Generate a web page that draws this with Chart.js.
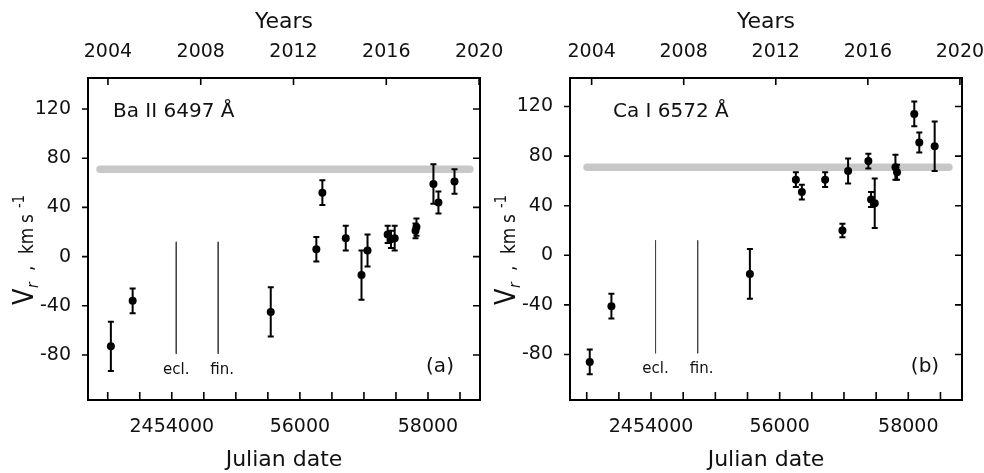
<!DOCTYPE html>
<html>
<head>
<meta charset="utf-8">
<script src="https://cdn.jsdelivr.net/npm/chart.js@4.4.1/dist/chart.umd.min.js"></script>
<style>
  html, body { margin: 0; padding: 0; background: #fff; }
  #wrap { position: relative; width: 984px; height: 473px; overflow: hidden; }
  canvas { position: absolute; top: 0; }
  #panelA { left: 0; }
  #panelB { left: 490px; }
</style>
</head>
<body>
<div id="wrap">
  <canvas id="panelA" width="520" height="473"></canvas>
  <canvas id="panelB" width="494" height="473"></canvas>
</div>
<script>
// Radial velocities measured from the Ba II 6497 A line
const baJD  = [2453049, 2453389, 2455545, 2456257, 2456351, 2456716, 2456962, 2457056,
               2457370, 2457422, 2457480, 2457805, 2457820, 2458085, 2458163, 2458414];
const baVr  = [-73, -36, -45, 6, 52, 15, -15, 5, 18, 14, 15, 21, 24, 59, 44, 61];
const baErr = [20, 10, 20, 10, 10, 10, 20, 13, 7, 7, 10, 6, 7, 16, 9, 10];

// Radial velocities measured from the Ca I 6572 A line
const caJD  = [2453047, 2453384, 2455537, 2456252, 2456345, 2456707, 2456976, 2457064,
               2457379, 2457421, 2457478, 2457800, 2457825, 2458093, 2458171, 2458410];
const caVr  = [-86, -41, -15, 61, 51, 61, 20, 68, 76, 45, 42, 71, 67, 114, 91, 88];
const caErr = [10, 10, 20, 6, 6, 6, 5.5, 10, 6, 6, 20, 10, 6, 10, 8, 20];

// Systemic velocity band and the span of JD it covers in each panel
const systemicVr = 71;
const baBandJD = [2452880, 2458655];
const caBandJD = [2453005, 2458632];

// Eclipse and its end, marked as vertical lines
const eventJD = [2454070, 2454725];
const eventNames = ['ecl.', 'fin.'];
const eventVr = [12, -79];

// Axis ticks
const jdTicks = [2453000, 2453500, 2454000, 2454500, 2455000, 2455500,
                 2456000, 2456500, 2457000, 2457500, 2458000, 2458500];
const jdLabels = { 2454000: '2454000', 2456000: '56000', 2458000: '58000' };
const yearTicks = [2004, 2008, 2012, 2016, 2020];
const vrTicks = [-80, -40, 0, 40, 80, 120];

const FONT = 'DejaVu Sans';
const INK = '#111';

function panel(canvasId, cfg) {
  const marks = {
    id: 'marks',
    afterDatasetsDraw(chart) {
      const ctx = chart.ctx;
      const xs = chart.scales.x, ys = chart.scales.y, ts = chart.scales.x2;
      const a = chart.chartArea;
      ctx.save();
      ctx.strokeStyle = '#000';
      ctx.lineWidth = 2;
      // error bars with caps
      cfg.jd.forEach((jd, i) => {
        const px = xs.getPixelForValue(jd);
        const hi = ys.getPixelForValue(cfg.vr[i] + cfg.err[i]);
        const lo = ys.getPixelForValue(cfg.vr[i] - cfg.err[i]);
        ctx.beginPath();
        ctx.moveTo(px, hi); ctx.lineTo(px, lo);
        ctx.moveTo(px - 3, hi); ctx.lineTo(px + 3, hi);
        ctx.moveTo(px - 3, lo); ctx.lineTo(px + 3, lo);
        ctx.stroke();
      });
      // frame
      ctx.strokeRect(a.left, a.top, a.right - a.left, a.bottom - a.top);
      // tick marks
      ctx.lineWidth = 1.6;
      ctx.beginPath();
      jdTicks.forEach(v => {
        const px = xs.getPixelForValue(v);
        ctx.moveTo(px, a.bottom); ctx.lineTo(px, a.bottom - 8);
      });
      yearTicks.forEach(v => {
        const px = ts.getPixelForValue(v);
        ctx.moveTo(px, a.top); ctx.lineTo(px, a.top + 7);
      });
      vrTicks.forEach(v => {
        const py = ys.getPixelForValue(v);
        ctx.moveTo(a.left, py); ctx.lineTo(a.left - 6, py);
        ctx.moveTo(a.right, py); ctx.lineTo(a.right - 7, py);
      });
      ctx.stroke();

      ctx.fillStyle = INK;
      // line identification
      ctx.font = '20px "' + FONT + '"';
      ctx.textAlign = 'left';
      ctx.textBaseline = 'alphabetic';
      ctx.fillText(cfg.line, a.left + cfg.lineDx, a.top + 39);
      // panel tag
      ctx.textAlign = 'center';
      ctx.textBaseline = 'middle';
      ctx.fillText(cfg.tag, a.right - cfg.tagDx, a.bottom - 33);
      // event labels under the vertical lines
      ctx.font = '15px "' + FONT + '"';
      const labY = ys.getPixelForValue(eventVr[1]) + 16;
      eventJD.forEach((jd, i) => {
        ctx.fillText(eventNames[i], xs.getPixelForValue(jd) + (i ? 4 : 0), labY);
      });

      // y-axis title: V_r , km s^-1 (glyphs slightly widened across the baseline)
      ctx.translate(a.left - 55, a.bottom - 95);
      ctx.rotate(-Math.PI / 2);
      ctx.scale(1, 1.18);
      ctx.textAlign = 'left';
      ctx.textBaseline = 'alphabetic';
      const runs = [
        { t: 'V',  f: '24px',        x: 0,  y: 0 },
        { t: 'r',  f: 'italic 14px', x: 17, y: 4 },
        { t: ',',  f: '17px',        x: 34, y: 0 },
        { t: 'km', f: '17px',        x: 51, y: 0 },
        { t: 's',  f: '17px',        x: 82, y: 0 },
        { t: '-1', f: '13px',        x: 97, y: -8 }
      ];
      runs.forEach(r => {
        ctx.font = r.f + ' "' + FONT + '"';
        ctx.fillText(r.t, r.x, r.y);
      });
      ctx.restore();
    }
  };

  const pts = cfg.jd.map((x, i) => ({ x: x, y: cfg.vr[i] }));
  const vline = jd => [{ x: jd, y: eventVr[0] }, { x: jd, y: eventVr[1] }];
  // keep the plot box fixed: no extra room for overhanging end labels
  const noOverhang = s => { s.paddingLeft = 0; s.paddingRight = 0; s.paddingTop = 0; s.paddingBottom = 0; };

  return new Chart(document.getElementById(canvasId), {
    type: 'scatter',
    data: {
      datasets: [
        { data: pts, pointRadius: 4, pointHoverRadius: 4, backgroundColor: '#000',
          borderWidth: 0, showLine: false },
        { data: vline(eventJD[0]), showLine: true, borderColor: '#444', borderWidth: 1,
          pointRadius: 0 },
        { data: vline(eventJD[1]), showLine: true, borderColor: '#444', borderWidth: 1,
          pointRadius: 0 },
        { data: [{ x: cfg.band[0], y: systemicVr }, { x: cfg.band[1], y: systemicVr }],
          showLine: true, borderColor: '#c8c8c8', borderWidth: 7.5,
          borderCapStyle: 'round', pointRadius: 0 }
      ]
    },
    options: {
      responsive: false,
      animation: false,
      devicePixelRatio: 1,
      layout: { padding: { left: 0, right: cfg.padRight, top: 0, bottom: 0 } },
      plugins: { legend: { display: false }, tooltip: { enabled: false } },
      scales: {
        x: {
          type: 'linear', position: 'bottom', min: cfg.jdRange[0], max: cfg.jdRange[1],
          afterBuildTicks: s => { s.ticks = jdTicks.map(v => ({ value: v })); },
          afterFit: s => { s.height = 73; noOverhang(s); },
          grid: { display: false }, border: { display: false },
          ticks: { autoSkip: false, maxRotation: 0, minRotation: 0, padding: 7.6,
                   color: INK, font: { family: FONT, size: 19 },
                   callback: v => jdLabels[v] || '' },
          title: { display: true, text: 'Julian date', color: INK,
                   font: { family: FONT, size: 22 }, padding: { top: 0, bottom: 0 } }
        },
        x2: {
          type: 'linear', position: 'top', min: cfg.yearRange[0], max: cfg.yearRange[1],
          afterBuildTicks: s => { s.ticks = yearTicks.map(v => ({ value: v })); },
          afterFit: s => { s.height = 78; noOverhang(s); },
          grid: { display: false }, border: { display: false },
          ticks: { autoSkip: false, maxRotation: 0, minRotation: 0, padding: 6.6,
                   color: INK, font: { family: FONT, size: 19 },
                   callback: v => String(v) },
          title: { display: true, text: 'Years', color: INK,
                   font: { family: FONT, size: 22 }, padding: { top: 8.8, bottom: 0 } }
        },
        y: {
          type: 'linear', position: 'left', min: cfg.vrRange[0], max: cfg.vrRange[1],
          afterBuildTicks: s => { s.ticks = vrTicks.map(v => ({ value: v })); },
          afterFit: s => { s.width = cfg.padLeft; noOverhang(s); },
          grid: { display: false }, border: { display: false },
          ticks: { padding: 9, color: INK, font: { family: FONT, size: 19 },
                   callback: v => String(v) }
        }
      }
    },
    plugins: [marks]
  });
}

panel('panelA', {
  jd: baJD, vr: baVr, err: baErr, band: baBandJD,
  line: 'Ba II 6497 \u00C5', lineDx: 25, tag: '(a)', tagDx: 40,
  jdRange: [2452692, 2458812], yearRange: [2003.14, 2020.04], vrRange: [-116.6, 145.2],
  padLeft: 88, padRight: 40
});

panel('panelB', {
  jd: caJD, vr: caVr, err: caErr, band: caBandJD,
  line: 'Ca I 6572 \u00C5', lineDx: 43, tag: '(b)', tagDx: 37,
  jdRange: [2452740, 2458835], yearRange: [2003.06, 2020.09], vrRange: [-116.7, 143],
  padLeft: 80, padRight: 22
});
</script>
</body>
</html>
